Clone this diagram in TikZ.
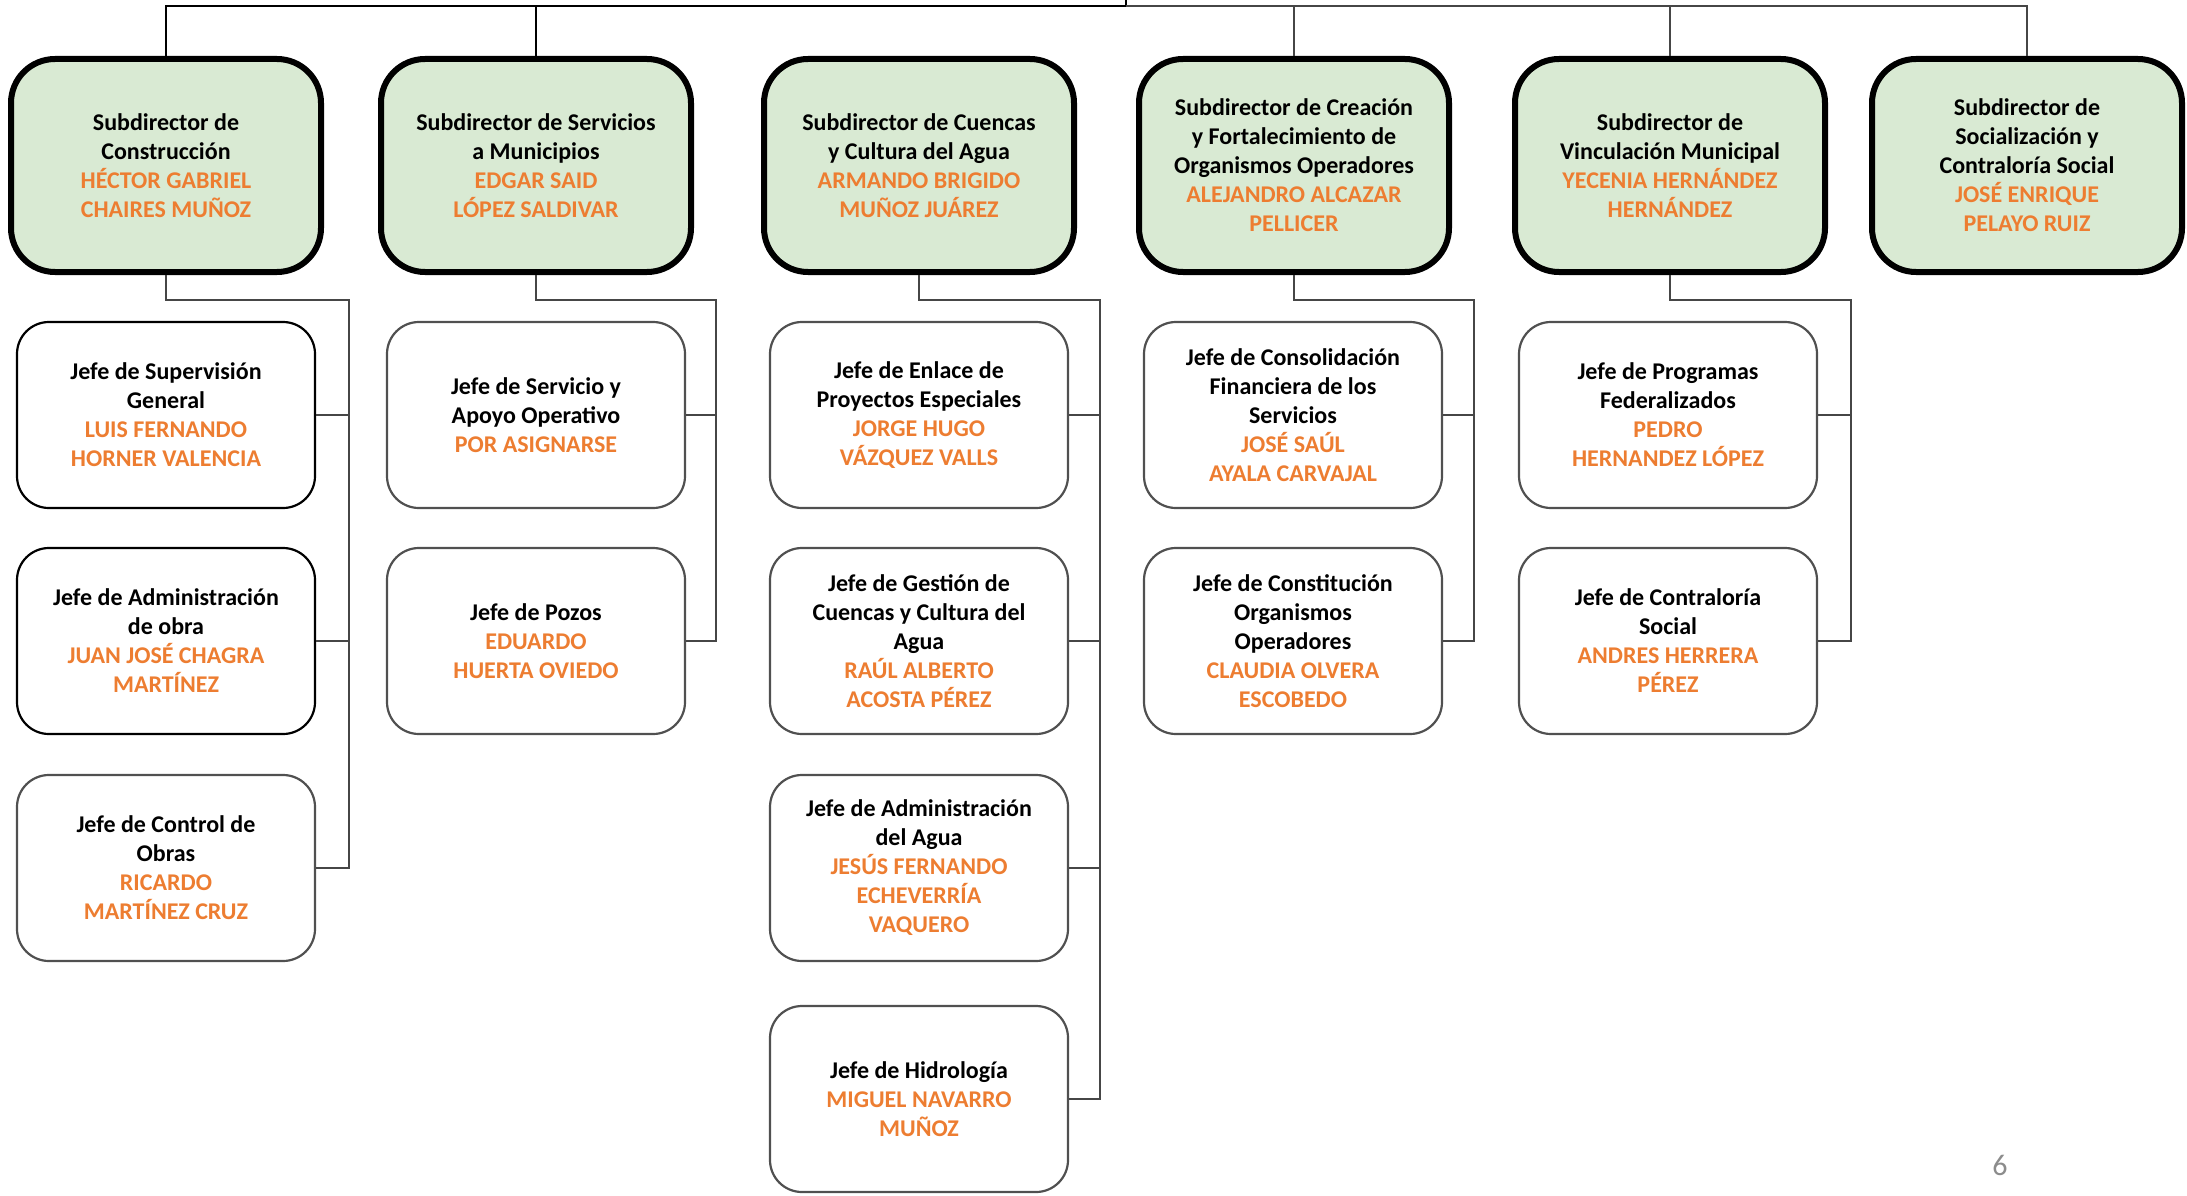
\documentclass[tikz,border=0pt]{standalone}
\usepackage{fontspec}
\setmainfont{Carlito}
\definecolor{subfill}{RGB}{217,234,211}
\definecolor{nameor}{RGB}{237,125,49}
\definecolor{boxgray}{RGB}{80,80,80}
\definecolor{linegray}{RGB}{70,70,70}
\definecolor{pagegray}{RGB}{140,140,140}
\newcommand{\nm}[1]{\textcolor{nameor}{#1}}
\tikzset{
  subbox/.style={draw=black, line width=6pt, fill=subfill, rounded corners=44pt,
    minimum width=310pt, minimum height=213pt, inner sep=0pt, align=center,
    font=\bfseries\fontsize{24}{29}\selectfont},
  jefebox/.style={draw=boxgray, line width=2.2pt, fill=white, rounded corners=32pt,
    minimum width=298pt, minimum height=186pt, inner sep=0pt, align=center,
    font=\bfseries\fontsize{24}{29}\selectfont},
  jefedark/.style={jefebox, draw=black},
  conn/.style={draw=linegray, line width=1.8pt},
  topconn/.style={draw=black, line width=2.6pt},
}
\begin{document}
\begin{tikzpicture}[x=1pt,y=-1pt]
\useasboundingbox[fill=white] (0,0) rectangle (2187,1196);

% Subdirector boxes
\node[subbox] (s1) at (166,165.5) {Subdirector de\\Construcción\\\nm{HÉCTOR GABRIEL}\\\nm{CHAIRES MUÑOZ}};
\node[subbox] (s2) at (536,165.5) {Subdirector de Servicios\\a Municipios\\\nm{EDGAR SAID}\\\nm{LÓPEZ SALDIVAR}};
\node[subbox] (s3) at (919,165.5) {Subdirector de Cuencas\\y Cultura del Agua\\\nm{ARMANDO BRIGIDO}\\\nm{MUÑOZ JUÁREZ}};
\node[subbox] (s4) at (1294,165.5) {Subdirector de Creación\\y Fortalecimiento de\\Organismos Operadores\\\nm{ALEJANDRO ALCAZAR}\\\nm{PELLICER}};
\node[subbox] (s5) at (1670,165.5) {Subdirector de\\Vinculación Municipal\\\nm{YECENIA HERNÁNDEZ}\\\nm{HERNÁNDEZ}};
\node[subbox] (s6) at (2027,165.5) {Subdirector de\\Socialización y\\Contraloría Social\\\nm{JOSÉ ENRIQUE}\\\nm{PELAYO RUIZ}};

% Column 1
\node[jefedark] (c1a) at (166,415) {Jefe de Supervisión\\General\\\nm{LUIS FERNANDO}\\\nm{HORNER VALENCIA}};
\node[jefedark] (c1b) at (166,641) {Jefe de Administración\\de obra\\\nm{JUAN JOSÉ CHAGRA}\\\nm{MARTÍNEZ}};
\node[jefebox] (c1c) at (166,868) {Jefe de Control de\\Obras\\\nm{RICARDO}\\\nm{MARTÍNEZ CRUZ}};
% Column 2
\node[jefebox] (c2a) at (536,415) {Jefe de Servicio y\\Apoyo Operativo\\\nm{POR ASIGNARSE}};
\node[jefebox] (c2b) at (536,641) {Jefe de Pozos\\\nm{EDUARDO}\\\nm{HUERTA OVIEDO}};
% Column 3
\node[jefebox] (c3a) at (919,415) {Jefe de Enlace de\\Proyectos Especiales\\\nm{JORGE HUGO}\\\nm{VÁZQUEZ VALLS}};
\node[jefebox] (c3b) at (919,641) {Jefe de Gestión de\\Cuencas y Cultura del\\Agua\\\nm{RAÚL ALBERTO}\\\nm{ACOSTA PÉREZ}};
\node[jefebox] (c3c) at (919,868) {Jefe de Administración\\del Agua\\\nm{JESÚS FERNANDO}\\\nm{ECHEVERRÍA}\\\nm{VAQUERO}};
\node[jefebox] (c3d) at (919,1099) {Jefe de Hidrología\\\nm{MIGUEL NAVARRO}\\\nm{MUÑOZ}};
% Column 4
\node[jefebox] (c4a) at (1293,415) {Jefe de Consolidación\\Financiera de los\\Servicios\\\nm{JOSÉ SAÚL}\\\nm{AYALA CARVAJAL}};
\node[jefebox] (c4b) at (1293,641) {Jefe de Constitución\\Organismos\\Operadores\\\nm{CLAUDIA OLVERA}\\\nm{ESCOBEDO}};
% Column 5
\node[jefebox] (c5a) at (1668,415) {Jefe de Programas\\Federalizados\\\nm{PEDRO}\\\nm{HERNANDEZ LÓPEZ}};
\node[jefebox] (c5b) at (1668,641) {Jefe de Contraloría\\Social\\\nm{ANDRES HERRERA}\\\nm{PÉREZ}};

% Top connectors
\coordinate (tt) at (1126,0);
\coordinate (tj) at (1126,6);
\draw[topconn] (tt) -- (tj);
\draw[topconn] (s1.north) |- (tj);
\draw[topconn] (s2.north) -- (s2.north |- tj);
\draw[conn] (tj) -| (s6.north);
\draw[conn] (s4.north) -- (s4.north |- tj);
\draw[conn] (s5.north) -- (s5.north |- tj);

% Column buses
\coordinate (k1) at (349,300);
\coordinate (k2) at (716,300);
\coordinate (k3) at (1100,300);
\coordinate (k4) at (1474,300);
\coordinate (k5) at (1851,300);

\draw[conn] (s1.south) |- (k1) -- (k1 |- c1c.east) -- (c1c.east);
\draw[conn] (c1a.east) -- (c1a.east -| k1);
\draw[conn] (c1b.east) -- (c1b.east -| k1);

\draw[conn] (s2.south) |- (k2) -- (k2 |- c2b.east) -- (c2b.east);
\draw[conn] (c2a.east) -- (c2a.east -| k2);

\draw[conn] (s3.south) |- (k3) -- (k3 |- c3d.east) -- (c3d.east);
\draw[conn] (c3a.east) -- (c3a.east -| k3);
\draw[conn] (c3b.east) -- (c3b.east -| k3);
\draw[conn] (c3c.east) -- (c3c.east -| k3);

\draw[conn] (s4.south) |- (k4) -- (k4 |- c4b.east) -- (c4b.east);
\draw[conn] (c4a.east) -- (c4a.east -| k4);

\draw[conn] (s5.south) |- (k5) -- (k5 |- c5b.east) -- (c5b.east);
\draw[conn] (c5a.east) -- (c5a.east -| k5);

% Page number
\node[text=pagegray, font=\fontsize{30}{36}\selectfont, inner sep=0pt] (pg) at (2000,1165) {6};
\end{tikzpicture}
\end{document}
